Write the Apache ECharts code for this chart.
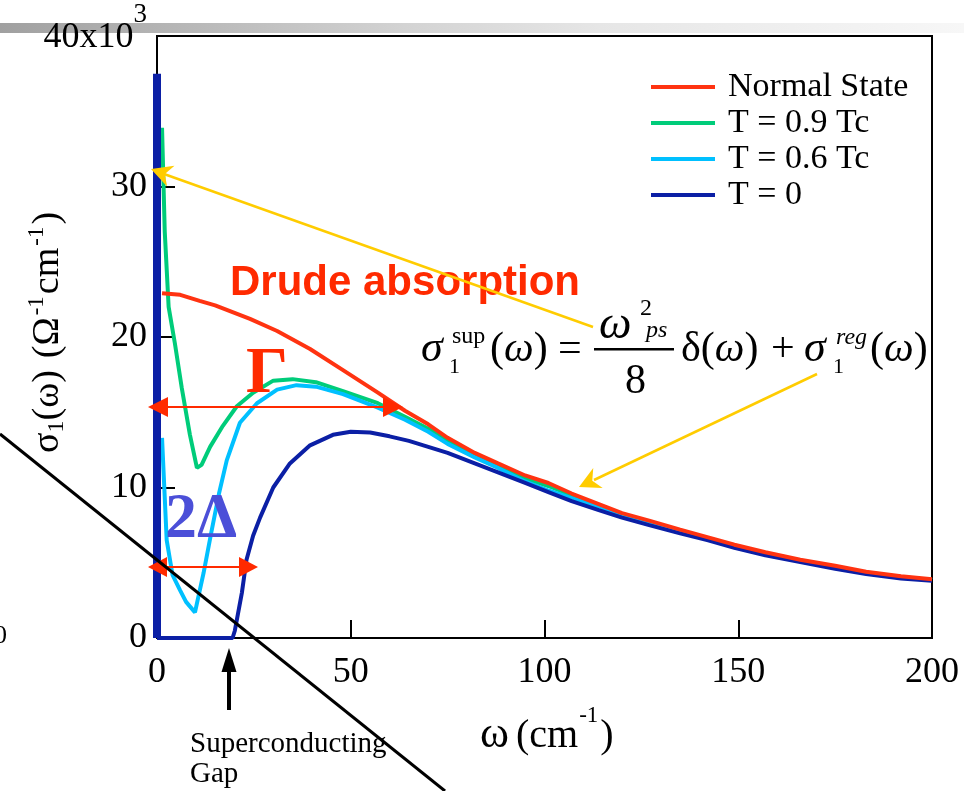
<!DOCTYPE html>
<html>
<head>
<meta charset="utf-8">
<script src="https://cdn.jsdelivr.net/npm/echarts@6/dist/echarts.min.js"></script>
<style>
  html, body { margin: 0; padding: 0; background: #fff; }
  #chart { width: 964px; height: 791px; }
</style>
</head>
<body>
<div id="chart"></div>
<script>
// Axis ticks (ω in cm^-1, σ1 in units of 10^3 Ω^-1cm^-1)
const omegaTicks = [0, 50, 100, 150, 200];
const sigmaTicks = [0, 10, 20, 30, 40];

const seriesNames = ['Normal State', 'T = 0.9 Tc', 'T = 0.6 Tc', 'T = 0'];

// σ1(ω) curves: [ω, σ1]
const normalState = [
  [1.3, 22.9], [6, 22.8], [11, 22.4], [15, 22.1], [19, 21.7], [24, 21.2], [31, 20.4],
  [39.5, 19.2], [48, 17.8], [57, 16.3], [64, 15.1], [70, 14.2], [75, 13.3], [82, 12.3],
  [88, 11.6], [95, 10.8], [101, 10.3], [107, 9.6], [114, 8.9], [120, 8.3], [127, 7.8],
  [135, 7.2], [142, 6.7], [149, 6.2], [157, 5.7], [166, 5.2], [175, 4.8], [183, 4.4],
  [192, 4.1], [200, 3.9]
];
const t09Tc = [
  [1.3, 33.9], [2, 27], [3, 22], [4.6, 19.6], [6.4, 16.6], [8.5, 13.5], [10.3, 11.3],
  [11.5, 11.5], [13.7, 12.7], [17, 14.1], [20.6, 15.4], [24.8, 16.3], [30, 17.1],
  [35, 17.2], [41, 17.0], [48, 16.4], [57, 15.6], [64, 14.7], [70, 13.9], [75, 13.1],
  [82, 12.1], [88, 11.4], [95, 10.6], [101, 10.1], [107, 9.5], [114, 8.8], [120, 8.2],
  [127, 7.7], [135, 7.1], [142, 6.6], [149, 6.1], [157, 5.6], [166, 5.1], [175, 4.7],
  [183, 4.35], [192, 4.05], [200, 3.85]
];
const t06Tc = [
  [1.3, 13.3], [2.5, 6.5], [4, 4.2], [5.9, 3.2], [7.5, 2.4], [9.8, 1.7], [12, 4.3],
  [14, 7.0], [16, 9.6], [18, 11.8], [21.4, 14.3], [25.8, 15.6], [31, 16.5], [36, 16.8],
  [41, 16.7], [48, 16.2], [57, 15.3], [64, 14.5], [70, 13.7], [75, 12.9], [82, 12.0],
  [88, 11.3], [95, 10.4], [101, 9.8], [107, 9.3], [114, 8.7], [120, 8.15], [127, 7.65],
  [135, 7.05], [142, 6.55], [149, 6.05], [157, 5.55], [166, 5.1], [175, 4.65],
  [183, 4.3], [192, 4.0], [200, 3.85]
];
const t0 = [
  [0, 0], [19.5, 0], [20.1, 0.5], [21.9, 3.0], [23.1, 5.2], [24.8, 6.8], [26.6, 8.0],
  [30, 10.0], [34.3, 11.6], [39.5, 12.8], [45.4, 13.5], [50, 13.7], [55, 13.65],
  [60, 13.4], [65, 13.1], [70, 12.7], [75, 12.3], [82, 11.6], [88, 11.0], [95, 10.3],
  [101, 9.7], [107, 9.1], [114, 8.5], [120, 8.0], [127, 7.5], [135, 6.95], [142, 6.5],
  [149, 6.0], [157, 5.5], [166, 5.05], [175, 4.6], [183, 4.25], [192, 3.95], [200, 3.8]
];
// superfluid δ(ω) weight at ω = 0 for T = 0
const t0Delta = [[0, 0], [0, 37.5]];

const colors = {
  normal: '#ff3311', t09: '#00cc7a', t06: '#00c0ff', t0: '#0b1fa5'
};

const SERIF = '"Liberation Serif", "Times New Roman", serif';
const SANS = '"Liberation Sans", Arial, sans-serif';

// text measuring helpers for baseline-aligned graphic text
const mctx = document.createElement('canvas').getContext('2d');
function font(size, o) {
  o = o || {};
  return (o.italic ? 'italic ' : '') + (o.bold ? 'bold ' : '') + size + 'px ' + (o.family || SERIF);
}
function midOffset(f) {
  mctx.font = f;
  mctx.textBaseline = 'middle';
  const d = mctx.measureText('H').actualBoundingBoxDescent;
  mctx.textBaseline = 'alphabetic';
  return d;
}
function textWidth(t, f) { mctx.font = f; return mctx.measureText(t).width; }
function txt(text, x, baseline, f, fill) {
  return {
    type: 'text', x: x, y: baseline - midOffset(f), silent: true, z: 10,
    style: { text: text, font: f, fill: fill || '#000', align: 'left', verticalAlign: 'middle' }
  };
}
function run(pieces, x0, base, fill) {
  const out = [];
  let x = x0;
  pieces.forEach(function (p) {
    x += p.dx || 0;
    out.push(txt(p.t, x, base + (p.dy || 0), p.f, fill));
    x += textWidth(p.t, p.f);
  });
  return out;
}
function arrowHead(tip, from, len, half, notch, fill) {
  const dx = from[0] - tip[0], dy = from[1] - tip[1];
  const L = Math.sqrt(dx * dx + dy * dy);
  const ux = dx / L, uy = dy / L, px = -uy, py = ux;
  const bx = tip[0] + ux * len, by = tip[1] + uy * len;
  const nx = tip[0] + ux * len * notch, ny = tip[1] + uy * len * notch;
  return {
    type: 'polygon', silent: true, z: 12,
    shape: { points: [tip, [bx + px * half, by + py * half], [nx, ny], [bx - px * half, by - py * half]] },
    style: { fill: fill }
  };
}
function segment(a, b, w, color, z) {
  return {
    type: 'line', silent: true, z: z || 11,
    shape: { x1: a[0], y1: a[1], x2: b[0], y2: b[1] },
    style: { stroke: color, lineWidth: w }
  };
}

const TICK_FS = 36;
const xLabelMargin = Math.round(682 - midOffset(font(TICK_FS)) - TICK_FS / 2 - 638);

const RED = '#ff2a00';
const YELLOW = '#ffcc00';

const graphics = [
  // slide header rule
  {
    type: 'rect', silent: true, z: -1,
    shape: { x: 0, y: 23, width: 964, height: 10 },
    style: {
      fill: new echarts.graphic.LinearGradient(0, 0, 1, 0, [
        { offset: 0, color: '#a0a0a0' }, { offset: 0.42, color: '#d3d3d3' },
        { offset: 0.62, color: '#e6e6e6' }, { offset: 1, color: '#f7f7f7' }
      ])
    }
  },
  txt('Drude absorption', 230, 295, font(42, { bold: true, family: SANS }), RED),
  txt('Γ', 246, 392, font(66, { bold: true }), RED),
  txt('2Δ', 165, 537, font(64, { bold: true }), '#4b4fd8'),
  // Γ width arrow
  segment([162, 407], [388, 407], 2, RED),
  arrowHead([148, 407], [400, 407], 20, 10, 1, RED),
  arrowHead([403, 407], [148, 407], 20, 10, 1, RED),
  // 2Δ arrow
  segment([162, 567], [244, 567], 2, RED),
  arrowHead([148, 567], [258, 567], 19, 10, 1, RED),
  arrowHead([258, 567], [148, 567], 19, 10, 1, RED),
  // pointers from the formula
  segment([593, 327], [164, 174], 2.5, YELLOW),
  arrowHead([151, 169], [593, 327], 21, 11, 0.7, YELLOW),
  segment([817, 374], [594, 480], 2.5, YELLOW),
  arrowHead([579, 487], [817, 374], 21, 11, 0.7, YELLOW),
  // gap marker
  segment([229, 710], [229, 668], 4, '#000'),
  { type: 'polygon', silent: true, z: 12, shape: { points: [[229, 648], [221.5, 672], [236.5, 672]] }, style: { fill: '#000' } },
  txt('Superconducting', 190, 752, font(29)),
  txt('Gap', 190, 782, font(29)),
  txt('0', -6, 643, font(26)),
  // formula
  txt('σ', 421, 361, font(44, { italic: true })),
  txt('sup', 452, 343, font(24)),
  txt('1', 449, 373, font(22)),
].concat(
  run([{ t: '(', f: font(42) }, { t: 'ω', f: font(42, { italic: true }) }, { t: ')', f: font(42) }], 490, 361),
  [
    txt('=', 558, 361, font(42)),
    txt('ω', 599, 338, font(46, { italic: true })),
    txt('2', 640, 315, font(24)),
    txt('ps', 646, 337, font(24, { italic: true })),
    { type: 'rect', silent: true, z: 10, shape: { x: 594, y: 348, width: 80, height: 2.5 }, style: { fill: '#000' } },
    txt('8', 625, 393, font(42))
  ],
  run([{ t: 'δ', f: font(42) }, { t: '(', f: font(42) }, { t: 'ω', f: font(42, { italic: true }) }, { t: ')', f: font(42) }], 681, 361),
  [
    txt('+', 771, 361, font(42)),
    txt('σ', 804, 361, font(44, { italic: true })),
    txt('reg', 836, 344, font(24, { italic: true })),
    txt('1', 833, 373, font(22))
  ],
  run([{ t: '(', f: font(42) }, { t: 'ω', f: font(42, { italic: true }) }, { t: ')', f: font(42) }], 870, 361),
  // axis titles
  [txt('ω', 480, 747, font(44))],
  run([
    { t: '(cm', f: font(40) }, { t: '-1', f: font(23), dy: -25, dx: 1 }, { t: ')', f: font(40), dx: 2 }
  ], 516, 747),
  [{
    type: 'group', x: 58, y: 453, rotation: Math.PI / 2,
    children: run([
      { t: 'σ', f: font(38) }, { t: '1', f: font(24), dy: 5 },
      { t: '(ω)', f: font(38) }, { t: '(Ω', f: font(38), dx: 12 }, { t: '-1', f: font(23), dy: -15, dx: 2 },
      { t: 'cm', f: font(38), dx: 2 }, { t: '-1', f: font(23), dy: -15, dx: 2 }, { t: ')', f: font(38), dx: 2 }
    ], 0, 0)
  }],
  // diagonal rule across the lower-left
  [segment([0, 434], [445, 791], 3, '#000', 20)]
);

function lineSeries(name, data, color, z, width) {
  return {
    name: name, type: 'line', data: data, z: z, clip: false,
    showSymbol: false, symbol: 'none', smooth: false, animation: false,
    lineStyle: { color: color, width: width || 4 },
    itemStyle: { color: color },
    emphasis: { disabled: true }
  };
}

const chart = echarts.init(document.getElementById('chart'));
chart.setOption({
  backgroundColor: '#fff',
  animation: false,
  grid: { left: 157, right: 32, top: 36, bottom: 153, show: true, borderColor: '#000', borderWidth: 2 },
  legend: {
    data: seriesNames, orient: 'vertical', left: 651, top: 69, padding: 0, itemGap: 0,
    icon: 'rect', itemWidth: 64, itemHeight: 4, selectedMode: false,
    textStyle: { fontFamily: SERIF, fontSize: 34, color: '#000', lineHeight: 36, padding: [0, 0, 0, 8] }
  },
  xAxis: {
    type: 'value', min: omegaTicks[0], max: omegaTicks[omegaTicks.length - 1],
    interval: omegaTicks[1] - omegaTicks[0],
    axisLine: { show: true, onZero: false, lineStyle: { color: '#000', width: 2 } },
    axisTick: { show: true, inside: true, length: 18, lineStyle: { color: '#000', width: 2 } },
    axisLabel: { margin: xLabelMargin, fontFamily: SERIF, fontSize: TICK_FS, color: '#000' },
    splitLine: { show: false }
  },
  yAxis: {
    type: 'value', min: sigmaTicks[0], max: sigmaTicks[sigmaTicks.length - 1],
    interval: sigmaTicks[1] - sigmaTicks[0],
    axisLine: { show: true, onZero: false, lineStyle: { color: '#000', width: 2 } },
    axisTick: { show: true, inside: true, length: 18, lineStyle: { color: '#000', width: 2 } },
    axisLabel: {
      margin: 10, fontFamily: SERIF, fontSize: TICK_FS, color: '#000',
      formatter: function (v) {
        return v === sigmaTicks[sigmaTicks.length - 1] ? '{m|' + v + 'x10}{s|3}' : String(v);
      },
      rich: {
        m: { fontFamily: SERIF, fontSize: TICK_FS, color: '#000', verticalAlign: 'bottom', padding: [0, 0, 15, 0] },
        s: { fontFamily: SERIF, fontSize: 27, color: '#000', verticalAlign: 'top', padding: [0, 0, 42, 0] }
      }
    },
    splitLine: { show: false }
  },
  series: [
    lineSeries(seriesNames[1], t09Tc, colors.t09, 2),
    lineSeries(seriesNames[2], t06Tc, colors.t06, 3),
    lineSeries(seriesNames[3], t0, colors.t0, 4),
    lineSeries(seriesNames[3], t0Delta, colors.t0, 4, 8),
    lineSeries(seriesNames[0], normalState, colors.normal, 5)
  ],
  graphic: graphics
});
</script>
</body>
</html>
